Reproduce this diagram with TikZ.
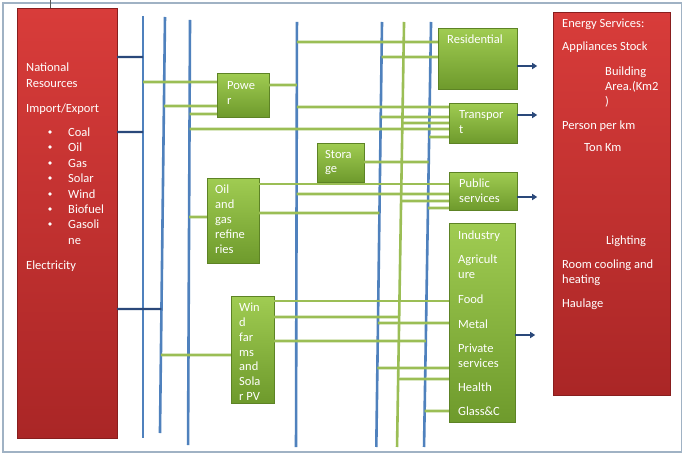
\documentclass[tikz,border=0pt]{standalone}
\usepackage{fontspec}
\setmainfont{Carlito}
\usetikzlibrary{calc,arrows.meta}
\definecolor{busblue}{RGB}{79,129,189}
\definecolor{lgreen}{RGB}{155,190,85}
\definecolor{dblue}{RGB}{42,72,122}
\definecolor{redtop}{RGB}{216,60,58}
\definecolor{redbot}{RGB}{170,38,38}
\definecolor{grtop}{RGB}{160,204,82}
\definecolor{grbot}{RGB}{110,154,44}
\definecolor{framec}{RGB}{160,178,196}
\newcommand\tp[2]{($(#1a)!{#2/455}!(#1z)$)}
\begin{document}
\begin{tikzpicture}[x=1pt,y=-1pt,
  rbox/.style={rectangle, top color=redtop, bottom color=redbot, draw=redbot!80!black, line width=0.4pt, inner sep=0pt},
  gbox/.style={rectangle, top color=grtop, bottom color=grbot, draw=grbot!85!black, line width=0.4pt, inner sep=0pt},
  bus/.style={draw=busblue, line width=2.6pt},
  gl/.style={draw=lgreen, line width=2.6pt},
  dbl/.style={draw=dblue, line width=2.4pt},
  arr/.style={draw=dblue, line width=2pt, -{Triangle[length=5pt,width=6pt]}},
  txt/.style={text=white, font=\fontsize{12.5}{15}\selectfont, anchor=base west, inner sep=0pt},
  bul/.style={fill=white}]
\useasboundingbox (0,0) rectangle (684,455);
\fill[white] (0,0) rectangle (684,455);
\draw[framec, line width=1.2pt] (3,3) rectangle (681.5,452);
\draw[black!65, line width=1pt] (50,0) -- (50,12);

% bus reference coordinates (y=0 and y=455)
\coordinate (b1a) at (143,0);   \coordinate (b1z) at (143,455);
\coordinate (b2a) at (165.2,0); \coordinate (b2z) at (159.7,455);
\coordinate (b3a) at (190.1,0); \coordinate (b3z) at (188,455);
\coordinate (b4a) at (297,0);   \coordinate (b4z) at (296,455);
\coordinate (b5a) at (382.3,0); \coordinate (b5z) at (376.2,455);
\coordinate (g1a) at (404.4,0); \coordinate (g1z) at (396.9,455);
\coordinate (b6a) at (431.4,0); \coordinate (b6z) at (423.9,455);

% boxes
\node[rbox, minimum width=100pt, minimum height=430pt] (nat) at (67,223) {};
\node[rbox, minimum width=117pt, minimum height=383pt] (srv) at (611.5,203.5) {};
\node[gbox, minimum width=52pt, minimum height=44pt] (pow) at (243,95) {};
\node[gbox, minimum width=79pt, minimum height=61pt] (res) at (477.5,58.5) {};
\node[gbox, minimum width=68pt, minimum height=40pt] (tra) at (483,123) {};
\node[gbox, minimum width=68pt, minimum height=38pt] (pub) at (483,191) {};
\node[gbox, minimum width=66pt, minimum height=199pt] (ind) at (482,322.5) {};
\node[gbox, minimum width=47pt, minimum height=39pt] (sto) at (340.5,162.5) {};
\node[gbox, minimum width=52pt, minimum height=85pt] (oil) at (233,220.5) {};
\node[gbox, minimum width=43pt, minimum height=107pt] (wind) at (252.5,349.5) {};

% buses
\draw[bus] \tp{b1}{16} -- \tp{b1}{438};
\draw[bus] \tp{b2}{17} -- \tp{b2}{433};
\draw[bus] \tp{b3}{20} -- \tp{b3}{445};
\draw[bus] \tp{b4}{22} -- \tp{b4}{447};
\draw[bus] \tp{b5}{22} -- \tp{b5}{447};
\draw[gl]  \tp{g1}{22} -- \tp{g1}{447};
\draw[bus] \tp{b6}{22} -- \tp{b6}{447};

% dark blue links from national resources
\draw[dbl] (nat.east |- 0,57) -- \tp{b1}{57};
\draw[dbl] (nat.east |- 0,132) -- \tp{b1}{132};
\draw[dbl] (nat.east |- 0,309) -- \tp{b2}{309};

% green links
\draw[gl] \tp{b1}{82} -- (pow.west |- 0,82);
\draw[gl] \tp{b2}{106} -- (pow.west |- 0,106);
\draw[gl] \tp{b3}{114} -- (pow.west |- 0,114);
\draw[gl] (pow.east |- 0,85) -- \tp{b4}{85};
\draw[gl] \tp{b3}{129} -- (tra.west |- 0,129);
\draw[gl] \tp{b4}{42} -- (res.west |- 0,42);
\draw[gl] \tp{b5}{57} -- (res.west |- 0,57);
\draw[gl] \tp{b4}{107} -- (tra.west |- 0,107);
\draw[gl] \tp{b5}{117} -- (tra.west |- 0,117);
\draw[gl] \tp{g1}{123} -- (tra.west |- 0,123);
\draw[gl] \tp{b6}{137} -- (tra.west |- 0,137);
\draw[gl] (sto.east |- 0,162) -- \tp{b6}{162};
\draw[gl] (oil.east |- 0,184) -- (pub.west |- 0,184);
\draw[gl] \tp{b4}{194} -- (pub.west |- 0,194);
\draw[gl] \tp{g1}{201} -- (pub.west |- 0,201);
\draw[gl] \tp{b6}{208} -- (pub.west |- 0,208);
\draw[gl] (oil.east |- 0,213) -- \tp{b5}{213};
\draw[gl] \tp{b3}{217} -- (oil.west |- 0,217);
\draw[gl] (wind.east |- 0,301) -- (ind.west |- 0,301);
\draw[gl] (wind.east |- 0,317) -- \tp{g1}{317};
\draw[gl] \tp{b5}{323} -- (ind.west |- 0,323);
\draw[gl] (wind.east |- 0,341) -- \tp{b6}{341};
\draw[gl] \tp{b5}{368} -- (ind.west |- 0,368);
\draw[gl] \tp{g1}{379} -- (ind.west |- 0,379);
\draw[gl] \tp{b6}{411} -- (ind.west |- 0,411);
\draw[gl] \tp{b2}{355} -- (wind.west |- 0,355);

% arrows to energy services
\draw[arr] (res.east |- 0,66) -- ++(20,0);
\draw[arr] (tra.east |- 0,115) -- ++(20,0);
\draw[arr] (pub.east |- 0,197) -- ++(20,0);
\draw[arr] (ind.east |- 0,335) -- ++(20,0);

% texts: national resources
\node[txt] (n1) at (26,71) {National};
\node[txt] (n2) at (26,87) {Resources};
\node[txt] (n3) at (26,112) {Import/Export};
\node[txt] (n4) at (68,136) {Coal};
\node[txt] (n5) at (68,151) {Oil};
\node[txt] (n6) at (68,167) {Gas};
\node[txt] (n7) at (68,182) {Solar};
\node[txt] (n8) at (68,198) {Wind};
\node[txt] (n9) at (68,213) {Biofuel};
\node[txt] (n10) at (68,228) {Gasoli};
\node[txt] (n11) at (68,244) {ne};
\node[txt] (n12) at (26,269) {Electricity};
\foreach \yy in {132,147,163,178,194,209,224} \fill[bul] (50,\yy) circle (1.9);

% texts: energy services
\node[txt] (e1) at (562,27) {Energy Services:};
\node[txt] (e2) at (562,50) {Appliances Stock};
\node[txt] (e3) at (605,75) {Building};
\node[txt] (e4) at (605,90) {Area.(Km2};
\node[txt] (e5) at (605,105) {)};
\node[txt] (e6) at (562,129) {Person per km};
\node[txt] (e7) at (584,151) {Ton Km};
\node[txt] (e8) at (606,244) {Lighting};
\node[txt] (e9) at (562,268) {Room cooling and};
\node[txt] (e10) at (562,283) {heating};
\node[txt] (e11) at (562,307) {Haulage};

% texts: green boxes
\node[txt] (r1) at (447,43) {Residential};
\node[txt] (r2) at (459,118) {Transpor};
\node[txt] (r3) at (459,133) {t};
\node[txt] (r4) at (459,187) {Public};
\node[txt] (r5) at (459,202) {services};
\node[txt] (i1) at (458,239) {Industry};
\node[txt] (i2) at (458,263) {Agricult};
\node[txt] (i3) at (458,278) {ure};
\node[txt] (i4) at (458,303) {Food};
\node[txt] (i5) at (458,328) {Metal};
\node[txt] (i6) at (458,352) {Private};
\node[txt] (i7) at (458,367) {services};
\node[txt] (i8) at (458,391) {Health};
\node[txt] (i9) at (458,415) {Glass\&C};
\node[txt] (p1) at (227,89) {Powe};
\node[txt] (p2) at (227,104) {r};
\node[txt] (s1) at (325,158) {Stora};
\node[txt] (s2) at (325,172) {ge};
\node[txt] (o1) at (215,193) {Oil};
\node[txt] (o2) at (215,208) {and};
\node[txt] (o3) at (215,223) {gas};
\node[txt] (o4) at (215,238) {refine};
\node[txt] (o5) at (215,253) {ries};
\node[txt] (w1) at (239,311) {Win};
\node[txt] (w2) at (239,326) {d};
\node[txt] (w3) at (239,341) {far};
\node[txt] (w4) at (239,356) {ms};
\node[txt] (w5) at (239,370) {and};
\node[txt] (w6) at (239,385) {Sola};
\node[txt] (w7) at (239,400) {r PV};
\end{tikzpicture}
\end{document}
